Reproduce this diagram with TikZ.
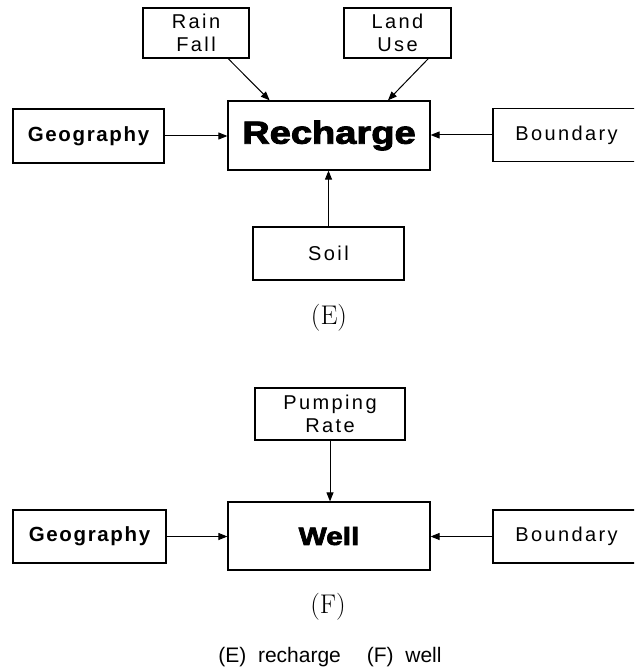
\documentclass[tikz,border=0pt]{standalone}
\usepackage{fontspec}
\usetikzlibrary{arrows.meta,calc}
% faces used inside the boxes and for the caption
\newfontfamily\lblfont[LetterSpace=12]{Liberation Sans}
\newfontfamily\lblboldfont[LetterSpace=8]{Liberation Sans Bold}
\newfontfamily\heavyfont[FakeBold=2.6]{Liberation Sans Bold}
\newfontfamily\capfont{Liberation Sans}
\begin{document}
\begin{tikzpicture}[x=1pt,y=-1pt,
  box/.style={draw,line width=1.2pt,inner sep=0pt,align=center},
  lbl/.style={font=\lblfont\fontsize{20}{23}\selectfont},
  lblb/.style={font=\lblboldfont\fontsize{20.5}{23}\selectfont},
  feed/.style={line width=1pt,-{Triangle[length=9pt,width=7pt]}},
  panel/.style={font=\fontsize{27}{30}\selectfont},
]
\useasboundingbox (0,0) rectangle (634,671);
\clip (0,0) rectangle (634,671);

% ---- (E) recharge ----
\node[box,lbl,minimum width=106pt,minimum height=50pt] (rain) at (196,33) {Rain\\Fall};
\node[box,lbl,minimum width=107pt,minimum height=50pt] (land) at (397.5,33) {Land\\Use};
\node[box,minimum width=202pt,minimum height=69pt] (rech) at (329,135.5)
  {\heavyfont\fontsize{32}{35}\selectfont\scalebox{1.19}[1]{Recharge}};
\node[box,lblb,minimum width=151pt,minimum height=54pt] (geoE) at (88.5,136) {Geography};
\node[box,lbl,minimum width=147pt,minimum height=53pt] (bndE) at (566.5,135) {Boundary};
\node[box,lbl,minimum width=151pt,minimum height=53pt] (soil) at (328.5,253.5) {Soil};
\node[panel] (labE) at (329,318) {(E)};

\draw[feed] ($(rain.south west)!0.80!(rain.south east)$) -- ($(rech.north west)!0.208!(rech.north east)$);
\draw[feed] ($(land.south west)!0.785!(land.south east)$) -- ($(rech.north west)!0.79!(rech.north east)$);
\draw[feed] (geoE.east) -- (geoE.east -| rech.west);
\draw[feed] (bndE.west) -- (bndE.west -| rech.east);
\draw[feed] (soil.north) -- (soil.north |- rech.south);

% ---- (F) well ----
\node[box,lbl,minimum width=150pt,minimum height=52pt] (pump) at (330,414) {Pumping\\Rate};
\node[box,minimum width=202pt,minimum height=68pt] (well) at (329,536)
  {\heavyfont\fontsize{25}{28}\selectfont\scalebox{1.19}[1]{Well}};
\node[box,lblb,minimum width=153pt,minimum height=53pt] (geoF) at (89.5,536.5) {Geography};
\node[box,lbl,minimum width=147pt,minimum height=53pt] (bndF) at (566.5,536.5) {Boundary};
\node[panel] (labF) at (328,607) {(F)};

\draw[feed] (pump.south) -- (pump.south |- well.north);
\draw[feed] (geoF.east) -- (geoF.east -| well.west);
\draw[feed] (bndF.west) -- (bndF.west -| well.east);

% ---- caption ----
\node[font=\capfont\fontsize{21}{24}\selectfont] (cap) at (330,657) {(E)\ \ recharge\hspace{26pt}(F)\ \ well};
\end{tikzpicture}
\end{document}
